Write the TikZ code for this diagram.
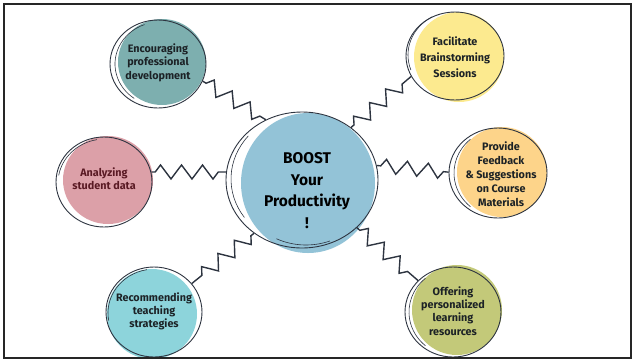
\documentclass[tikz,border=0pt]{standalone}
\usepackage{fontspec}
\setmainfont{Fira Sans}
\usetikzlibrary{shapes.geometric,decorations.pathmorphing}
\definecolor{ink}{HTML}{2D3440}
\definecolor{cteal}{HTML}{7DAFAF}
\definecolor{cyellow}{HTML}{FCEA8F}
\definecolor{cblue}{HTML}{93C3D7}
\definecolor{cpink}{HTML}{DCA0A8}
\definecolor{corange}{HTML}{FDD48A}
\definecolor{ccyan}{HTML}{8DD4DB}
\definecolor{colive}{HTML}{C3C979}
\definecolor{maroon}{HTML}{5A1A24}
\definecolor{txtdark}{HTML}{1C2226}
\tikzset{
  bubble/.style={ellipse, draw=ink, line width=0.9pt, inner sep=0pt},
  txt/.style={align=center, text=txtdark, font=\bfseries\fontsize{10.8}{13.5}\selectfont},
  zz/.style={draw=ink, line width=1.4pt, line join=miter, decorate,
    decoration={zigzag, segment length=21pt, amplitude=7pt, pre length=4pt, post length=4pt}},
  sketch/.style={draw=ink, line width=0.6pt},
  frame/.style={draw=black!85, line width=2.5pt}
}
\begin{document}
\begin{tikzpicture}[x=1pt,y=-1pt]
\useasboundingbox (0,0) rectangle (634,360);
% colour blobs
\fill[cteal]   (162,62)  ellipse [x radius=44pt, y radius=43pt];
\fill[cyellow] (459,57)  ellipse [x radius=45pt, y radius=45pt];
\fill[cblue]   (308,183) ellipse [x radius=67pt, y radius=70pt];
\fill[cpink]   (108,180) ellipse [x radius=45pt, y radius=44pt];
\fill[corange] (502,172) ellipse [x radius=45pt, y radius=45pt];
\fill[ccyan]   (152,314) ellipse [x radius=45pt, y radius=45pt];
\fill[colive]  (457,310) ellipse [x radius=45pt, y radius=45pt];
% outlines
\node[bubble, minimum width=96pt,  minimum height=88pt]  (enc) at (158,64)  {};
\node[bubble, minimum width=98pt,  minimum height=88pt]  (fac) at (455,56)  {};
\node[bubble, minimum width=152pt, minimum height=136pt] (ctr) at (302,180) {};
\node[bubble, minimum width=96pt,  minimum height=90pt]  (ana) at (104,182) {};
\node[bubble, minimum width=98pt,  minimum height=90pt]  (pro) at (498,173) {};
\node[bubble, minimum width=96pt,  minimum height=90pt]  (rec) at (154,312) {};
\node[bubble, minimum width=96pt,  minimum height=90pt]  (off) at (453,312) {};
% sketchy second strokes
\draw[sketch] ([shift={(2pt,0pt)}]enc.center) ++(110:45pt and 42pt) arc[start angle=110, end angle=235, x radius=45pt, y radius=42pt];
\draw[sketch] ([shift={(1pt,1pt)}]fac.center) ++(120:48pt and 44pt) arc[start angle=120, end angle=200, x radius=48pt, y radius=44pt];
\draw[sketch] ([shift={(3pt,1pt)}]ctr.center) ++(140:74pt and 67pt) arc[start angle=140, end angle=215, x radius=74pt, y radius=67pt];
\draw[sketch] ([shift={(4pt,2pt)}]ctr.center) ++(245:70pt and 67pt) arc[start angle=245, end angle=290, x radius=70pt, y radius=67pt];
\draw[sketch] ([shift={(1pt,-1pt)}]ana.center) ++(100:47pt and 44pt) arc[start angle=100, end angle=170, x radius=47pt, y radius=44pt];
\draw[sketch] ([shift={(2pt,0pt)}]pro.center) ++(130:46pt and 44pt) arc[start angle=130, end angle=230, x radius=46pt, y radius=44pt];
\draw[sketch] ([shift={(1pt,-1pt)}]rec.center) ++(100:47pt and 44pt) arc[start angle=100, end angle=190, x radius=47pt, y radius=44pt];
\draw[sketch] ([shift={(2pt,0pt)}]off.center) ++(130:46pt and 44pt) arc[start angle=130, end angle=230, x radius=46pt, y radius=44pt];
% texts
\node[txt] (enc-t) at (158,62.5) {Encouraging\\professional\\development};
\node[txt, font=\bfseries\fontsize{10.8}{16}\selectfont] (fac-t) at (455,57) {Facilitate\\Brainstorming\\Sessions};
\node[txt, text=black, font=\bfseries\fontsize{15.5}{21.7}\selectfont] (ctr-t) at (307,190.5) {BOOST\\Your\\Productivity\\!};
\node[txt, text=maroon, font=\bfseries\fontsize{10.8}{13}\selectfont] (ana-t) at (104,178.5) {Analyzing\\student data};
\node[txt, font=\bfseries\fontsize{10.8}{14}\selectfont] (pro-t) at (501,174) {Provide\\Feedback\\\& Suggestions\\on Course\\Materials};
\node[txt, font=\bfseries\fontsize{10.8}{13}\selectfont] (rec-t) at (154,311) {Recommending\\teaching\\strategies};
\node[txt, font=\bfseries\fontsize{10.8}{13.3}\selectfont] (off-t) at (453,311) {Offering\\personalized\\learning\\resources};
% zigzag connectors
\draw[zz] (enc.-21) -- (ctr.121);
\draw[zz] (ana.12)  -- (ctr.174);
\draw[zz] (ctr.47)  -- (fac.205);
\draw[zz] (ctr.11)  -- (pro.179);
\draw[zz] (ctr.228) -- (rec.37);
\draw[zz] (ctr.-41) -- (off.138);
% frame
\draw[frame] (4,4) rectangle (631,358);
\end{tikzpicture}
\end{document}
